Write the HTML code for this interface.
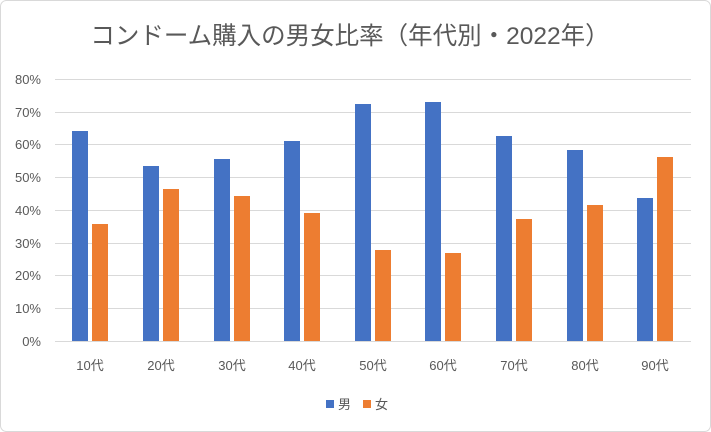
<!DOCTYPE html>
<html><head><meta charset="utf-8"><style>
html,body{margin:0;padding:0;background:#fff;}
svg{display:block;font-family:"Liberation Sans","Noto Sans CJK JP",sans-serif;}
</style></head><body>
<svg width="711" height="432" viewBox="0 0 711 432" xmlns="http://www.w3.org/2000/svg">
<rect x="0.5" y="0.5" width="710" height="431" rx="6" fill="#fff" stroke="#d9d9d9"/>
<text x="350" y="44" text-anchor="middle" font-size="24.5" fill="#595959">コンドーム購入の男女比率（年代別・2022年）</text>
<g stroke="#d9d9d9" stroke-width="1">
<line x1="55" x2="691" y1="79.5" y2="79.5"/>
<line x1="55" x2="691" y1="112.5" y2="112.5"/>
<line x1="55" x2="691" y1="144.5" y2="144.5"/>
<line x1="55" x2="691" y1="177.5" y2="177.5"/>
<line x1="55" x2="691" y1="210.5" y2="210.5"/>
<line x1="55" x2="691" y1="243.5" y2="243.5"/>
<line x1="55" x2="691" y1="275.5" y2="275.5"/>
<line x1="55" x2="691" y1="308.5" y2="308.5"/>
<line x1="55" x2="691" y1="341.5" y2="341.5"/>
</g>
<g font-size="13" fill="#595959" text-anchor="end">
<text x="41" y="84">80%</text><text x="41" y="117">70%</text><text x="41" y="149">60%</text>
<text x="41" y="182">50%</text><text x="41" y="215">40%</text><text x="41" y="248">30%</text>
<text x="41" y="280">20%</text><text x="41" y="313">10%</text><text x="41" y="346">0%</text>
</g>
<g fill="#4472C4">
<rect x="72" y="131" width="16" height="210"/>
<rect x="143" y="166" width="16" height="175"/>
<rect x="214" y="159" width="16" height="182"/>
<rect x="284" y="141" width="16" height="200"/>
<rect x="355" y="104" width="16" height="237"/>
<rect x="425" y="102" width="16" height="239"/>
<rect x="496" y="136" width="16" height="205"/>
<rect x="567" y="150" width="16" height="191"/>
<rect x="637" y="198" width="16" height="143"/>
</g>
<g fill="#ED7D31">
<rect x="92" y="224" width="16" height="117"/>
<rect x="163" y="189" width="16" height="152"/>
<rect x="234" y="196" width="16" height="145"/>
<rect x="304" y="213" width="16" height="128"/>
<rect x="375" y="250" width="16" height="91"/>
<rect x="445" y="253" width="16" height="88"/>
<rect x="516" y="219" width="16" height="122"/>
<rect x="587" y="205" width="16" height="136"/>
<rect x="657" y="157" width="16" height="184"/>
</g>
<g font-size="13" fill="#595959" text-anchor="middle">
<text x="90" y="370">10代</text><text x="161" y="370">20代</text><text x="232" y="370">30代</text>
<text x="302" y="370">40代</text><text x="373" y="370">50代</text><text x="443" y="370">60代</text>
<text x="514" y="370">70代</text><text x="585" y="370">80代</text><text x="655" y="370">90代</text>
</g>
<rect x="326" y="400" width="8" height="8" fill="#4472C4"/>
<text x="338" y="409" font-size="13" fill="#595959">男</text>
<rect x="363" y="400" width="8" height="8" fill="#ED7D31"/>
<text x="375" y="409" font-size="13" fill="#595959">女</text>
</svg>
</body></html>
